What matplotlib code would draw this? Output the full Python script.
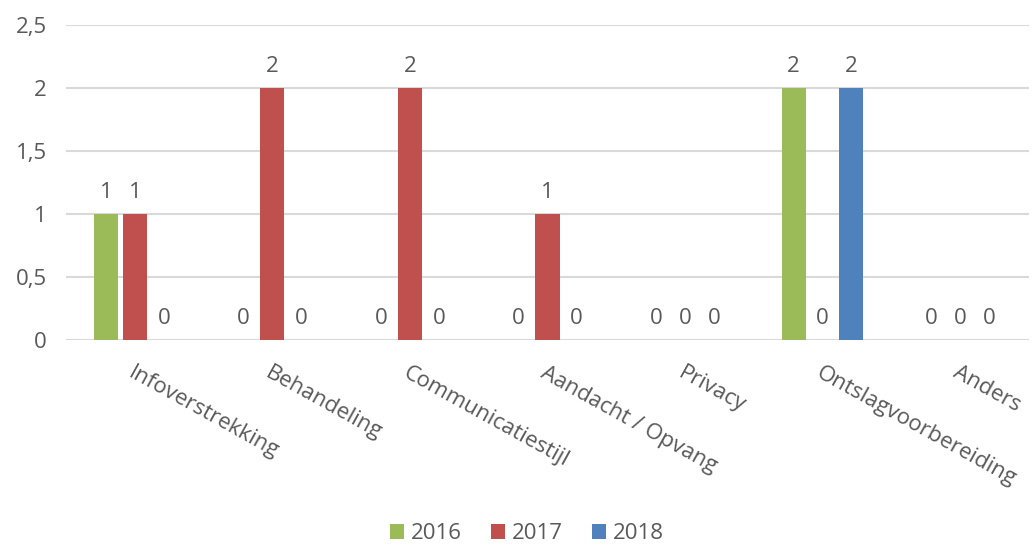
import matplotlib.pyplot as plt
import numpy as np

plt.rcParams['font.family'] = ['Open Sans', 'DejaVu Sans']

categories = ["Infoverstrekking", "Behandeling", "Communicatiestijl", "Aandacht / Opvang",
              "Privacy", "Ontslagvoorbereiding", "Anders"]
years = ["2016", "2017", "2018"]
vals_2016 = [1, 0, 0, 0, 0, 2, 0]
vals_2017 = [1, 2, 2, 1, 0, 0, 0]
vals_2018 = [0, 0, 0, 0, 0, 2, 0]
colors = ["#9BBB59", "#C0504D", "#4F81BD"]
text_color = "#595959"

fig = plt.figure(figsize=(10.33, 5.45), dpi=100)
ax = fig.add_axes([0.064, 0.376, 0.932, 0.578])

x = np.arange(len(categories))
width = 0.175
step = 0.21
for i, (year, vals) in enumerate(zip(years, [vals_2016, vals_2017, vals_2018])):
    bars = ax.bar(x + (i - 1) * step, vals, width, color=colors[i], label=year, zorder=3)
    ax.bar_label(bars, labels=[str(v) for v in vals], padding=8,
                 fontsize=16, color=text_color)

ax.set_xlim(-0.5, len(categories) - 0.5)
ax.set_ylim(0, 2.5)
ax.set_yticks([0, 0.5, 1, 1.5, 2, 2.5])
ax.set_yticklabels(["0", "0,5", "1", "1,5", "2", "2,5"])
ax.grid(axis="y", color="#D9D9D9", linewidth=1.5, zorder=0)
for s in ax.spines.values():
    s.set_visible(False)
ax.tick_params(axis="both", length=0, labelsize=16, labelcolor=text_color)
ax.tick_params(axis="y", pad=14)

ax.set_xticks(x)
ax.set_xticklabels(categories, rotation=-29, ha="left", va="top",
                   rotation_mode="anchor")
ax.tick_params(axis="x", pad=16)

fig.legend(loc="lower center", ncol=3, frameon=False, fontsize=16,
           handlelength=0.65, handleheight=0.65, handletextpad=0.3,
           columnspacing=1.3, labelcolor=text_color,
           bbox_to_anchor=(0.51, -0.035))

fig.savefig("out.png", dpi=100)
